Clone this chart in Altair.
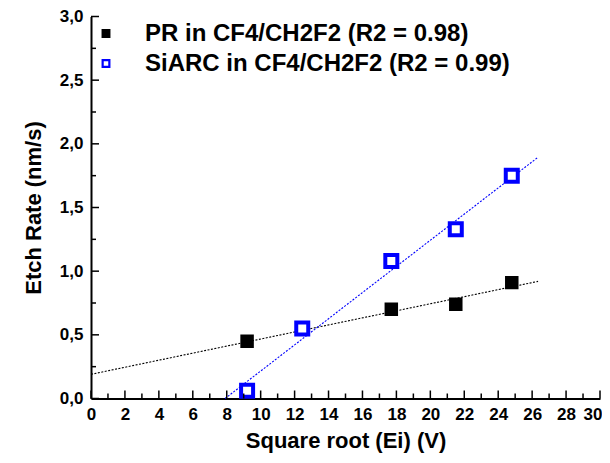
import altair as alt
import pandas as pd

# --- data ---
series_names = ["PR in CF4/CH2F2 (R2 = 0.98)", "SiARC in CF4/CH2F2 (R2 = 0.99)"]
pr_x = [9.2, 17.7, 21.5, 24.8]
pr_y = [0.45, 0.70, 0.74, 0.91]
siarc_x = [9.2, 12.45, 17.7, 21.5, 24.8]
siarc_y = [0.06, 0.55, 1.08, 1.33, 1.75]
pr_fit_x = [0.0, 26.35]
pr_fit_y = [0.19, 0.92]
siarc_fit_x = [7.9, 26.35]
siarc_fit_y = [0.0, 1.895]
x_major = [0, 2, 4, 6, 8, 10, 12, 14, 16, 18, 20, 22, 24, 26, 28, 30]
x_minor = [1, 3, 5, 7, 9, 11, 13, 15, 17, 19, 21, 23, 25, 27, 29]
y_major = [0.0, 0.5, 1.0, 1.5, 2.0, 2.5, 3.0]
y_minor = [0.25, 0.75, 1.25, 1.75, 2.25, 2.75]

W, H = 509, 382
FONT = "Liberation Sans"

pts = pd.DataFrame(
    {"x": pr_x + siarc_x,
     "y": pr_y + siarc_y,
     "series": [series_names[0]] * len(pr_x) + [series_names[1]] * len(siarc_x)}
)
fit_pr = pd.DataFrame({"x": pr_fit_x, "y": pr_fit_y})
fit_si = pd.DataFrame({"x": siarc_fit_x, "y": siarc_fit_y})

xscale = alt.Scale(domain=[0, 30], nice=False, zero=False)
yscale = alt.Scale(domain=[0, 3], nice=False)

stroke_scale = alt.Scale(domain=series_names, range=["#000000", "#0000FF"])
fill_scale = alt.Scale(domain=series_names, range=["#000000", "#FFFFFF"])

leg = alt.Legend(
    title=None, orient="none", legendX=3, legendY=5,
    symbolType="square", symbolSize=45, symbolStrokeWidth=2.2,
    labelFont=FONT, labelFontSize=24, labelFontWeight="bold", labelColor="black",
    labelOffset=27, rowPadding=6, symbolOpacity=1, labelLimit=0,
)

xaxis = alt.Axis(
    values=x_major, title="Square root (Ei) (V)", format="d",
    labelPadding=8, titlePadding=8, labelOverlap=False, labelFlush=False,
    labelAlign=alt.ConditionalAxisLabelAlign(
        condition={"test": "datum.value >= 30", "value": "right"}, value="center"),
    labelOffset=alt.ConditionalAxisNumber(
        condition={"test": "datum.value >= 30", "value": 2}, value=0),
)
yaxis = alt.Axis(values=y_major, title="Etch Rate (nm/s)",
                 labelExpr="replace(format(datum.value, '.1f'), '.', ',')",
                 labelPadding=8, titlePadding=14, labelOverlap=False, labelFlush=False)

base_x = alt.X("x:Q", scale=xscale, axis=xaxis)
base_y = alt.Y("y:Q", scale=yscale, axis=yaxis)

line_pr = alt.Chart(fit_pr).mark_line(color="black", strokeWidth=1.1, strokeDash=[2, 1.5]).encode(
    x=base_x, y=base_y)
line_si = alt.Chart(fit_si).mark_line(color="#0000FF", strokeWidth=1.1, strokeDash=[2, 1.5]).encode(
    x=base_x, y=base_y)

pr_pts = alt.Chart(pts).transform_filter(alt.datum.series == series_names[0]).mark_point(
    shape="square", size=90, strokeWidth=4, opacity=1, filled=False
).encode(
    x=base_x, y=base_y,
    stroke=alt.Stroke("series:N", scale=stroke_scale, legend=leg),
    fill=alt.Fill("series:N", scale=fill_scale, legend=leg),
)
si_pts = alt.Chart(pts).transform_filter(alt.datum.series == series_names[1]).mark_point(
    shape="square", size=144, strokeWidth=4, opacity=1, filled=False
).encode(
    x=base_x, y=base_y,
    stroke=alt.Stroke("series:N", scale=stroke_scale, legend=leg),
    fill=alt.Fill("series:N", scale=fill_scale, legend=leg),
)

# inward tick marks
xmaj = alt.Chart(pd.DataFrame({"x": x_major})).mark_rule(color="black", strokeWidth=1.5).encode(
    x=base_x, y=alt.value(H), y2=alt.value(H - 8))
xmin = alt.Chart(pd.DataFrame({"x": x_minor})).mark_rule(color="black", strokeWidth=1.5).encode(
    x=base_x, y=alt.value(H), y2=alt.value(H - 5))
ymaj = alt.Chart(pd.DataFrame({"y": y_major})).mark_rule(color="black", strokeWidth=1.5).encode(
    y=base_y, x=alt.value(0), x2=alt.value(8))
ymin = alt.Chart(pd.DataFrame({"y": y_minor})).mark_rule(color="black", strokeWidth=1.5).encode(
    y=base_y, x=alt.value(0), x2=alt.value(5))

chart = alt.layer(
    line_pr, line_si, pr_pts, si_pts, xmaj, xmin, ymaj, ymin
).properties(
    width=W, height=H,
    autosize=alt.AutoSizeParams(type="none"),
    padding={"left": 83, "top": 8.5, "right": 2, "bottom": 56.5},
).configure_view(stroke=None).configure_axis(
    grid=False, domainColor="black", domainWidth=2, tickSize=0, ticks=False,
    labelFont=FONT, labelFontSize=17, labelFontWeight="bold", labelColor="black",
    titleFont=FONT, titleFontSize=22, titleFontWeight="bold", titleColor="black",
).configure_legend(padding=0)

chart.save("out.html", embed_options={"renderer": "svg", "actions": False})
